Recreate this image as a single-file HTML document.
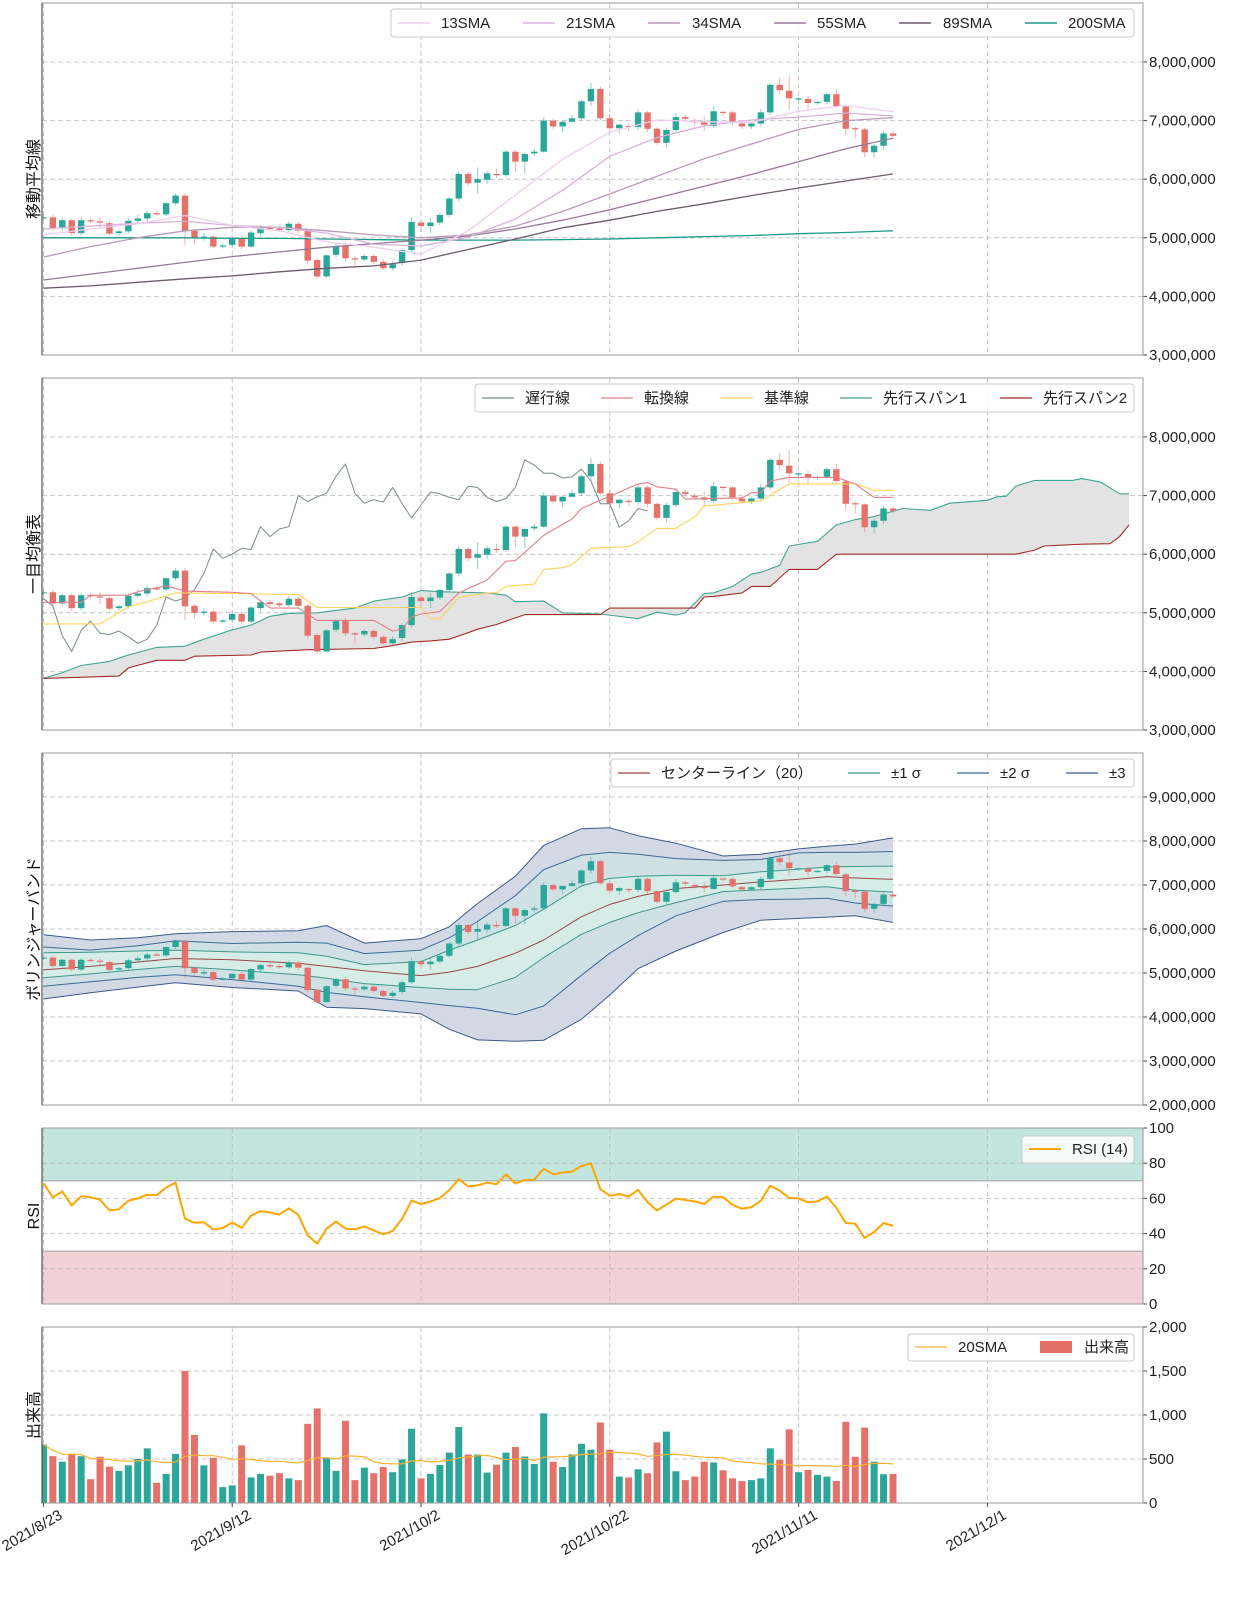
<!DOCTYPE html>
<html><head><meta charset="utf-8">
<style>
body{margin:0;background:#fff;}
svg{display:block;font-family:"Liberation Sans","Noto Sans CJK JP",sans-serif;}
.tk{font-size:15px;fill:#222;}
.lg{font-size:15px;fill:#222;}
.yl{font-size:16px;fill:#111;}
</style></head>
<body>
<svg id="chart" width="1254" height="1600" viewBox="0 0 1254 1600">
<defs id="defs"></defs>
<g id="layer"></g>
<g id="legends">
 <g>
  <rect x="391" y="9" width="743" height="28" rx="3" fill="#fff" fill-opacity="0.85" stroke="#ccc"/>
  <line x1="398" y1="23" x2="430" y2="23" stroke="#f0cdef" stroke-width="1.5"/><text class="lg" x="441" y="28">13SMA</text>
  <line x1="523" y1="23" x2="555" y2="23" stroke="#d9b2d9" stroke-width="1.5"/><text class="lg" x="566" y="28">21SMA</text>
  <line x1="648" y1="23" x2="680" y2="23" stroke="#b99ab9" stroke-width="1.5"/><text class="lg" x="692" y="28">34SMA</text>
  <line x1="774" y1="23" x2="806" y2="23" stroke="#987a98" stroke-width="1.5"/><text class="lg" x="817" y="28">55SMA</text>
  <line x1="899" y1="23" x2="931" y2="23" stroke="#6b5b6b" stroke-width="1.5"/><text class="lg" x="943" y="28">89SMA</text>
  <line x1="1025" y1="23" x2="1057" y2="23" stroke="#1a9a8a" stroke-width="1.5"/><text class="lg" x="1068" y="28">200SMA</text>
 </g>
 <g>
  <rect x="475" y="384" width="659" height="28" rx="3" fill="#fff" fill-opacity="0.85" stroke="#ccc"/>
  <line x1="482" y1="398" x2="514" y2="398" stroke="#7a8a8a" stroke-width="1.2"/><text class="lg" x="525" y="403">遅行線</text>
  <line x1="601" y1="398" x2="633" y2="398" stroke="#e47f86" stroke-width="1.2"/><text class="lg" x="644" y="403">転換線</text>
  <line x1="721" y1="398" x2="753" y2="398" stroke="#ffd35a" stroke-width="1.2"/><text class="lg" x="764" y="403">基準線</text>
  <line x1="840" y1="398" x2="872" y2="398" stroke="#3fa592" stroke-width="1.2"/><text class="lg" x="883" y="403">先行スパン1</text>
  <line x1="1000" y1="398" x2="1032" y2="398" stroke="#a52a2a" stroke-width="1.2"/><text class="lg" x="1043" y="403">先行スパン2</text>
 </g>
 <g>
  <rect x="611" y="759" width="523" height="28" rx="3" fill="#fff" fill-opacity="0.85" stroke="#ccc"/>
  <line x1="618" y1="773" x2="650" y2="773" stroke="#9a4545" stroke-width="1.2"/><text class="lg" x="661" y="778">センターライン（20）</text>
  <line x1="848" y1="773" x2="880" y2="773" stroke="#3a9a8a" stroke-width="1.2"/><text class="lg" x="891" y="778">±1 σ</text>
  <line x1="957" y1="773" x2="989" y2="773" stroke="#3a6a9a" stroke-width="1.2"/><text class="lg" x="1000" y="778">±2 σ</text>
  <line x1="1066" y1="773" x2="1098" y2="773" stroke="#3a5a8a" stroke-width="1.2"/><text class="lg" x="1109" y="778">±3</text>
 </g>
 <g>
  <rect x="1022" y="1136" width="112" height="27" rx="3" fill="#fff" fill-opacity="0.85" stroke="#ccc"/>
  <line x1="1029" y1="1149" x2="1061" y2="1149" stroke="#ffa500" stroke-width="2"/><text class="lg" x="1072" y="1154">RSI (14)</text>
 </g>
 <g>
  <rect x="908" y="1334" width="226" height="27" rx="3" fill="#fff" fill-opacity="0.85" stroke="#ccc"/>
  <line x1="915" y1="1347" x2="947" y2="1347" stroke="#ffb030" stroke-width="1.2"/><text class="lg" x="958" y="1352">20SMA</text>
  <rect x="1040" y="1341" width="32" height="12" fill="#e57068"/><text class="lg" x="1084" y="1352">出来高</text>
 </g>
</g>
<g>
 <text class="yl" transform="translate(39,179) rotate(-90)" text-anchor="middle">移動平均線</text>
 <text class="yl" transform="translate(39,554) rotate(-90)" text-anchor="middle">一目均衡表</text>
 <text class="yl" transform="translate(39,929) rotate(-90)" text-anchor="middle">ボリンジャーバンド</text>
 <text class="yl" transform="translate(39,1216) rotate(-90)" text-anchor="middle">RSI</text>
 <text class="yl" transform="translate(39,1415) rotate(-90)" text-anchor="middle">出来高</text>
</g>
</svg>
<script>
const dateLabels=['2021/8/23','2021/9/12','2021/10/2','2021/10/22','2021/11/11','2021/12/1'];
const dateIdx=[0,20,40,60,80,100];
const opens=[5.33,5.35,5.16,5.30,5.08,5.30,5.28,5.25,5.08,5.11, 5.29,5.33,5.42,5.40,5.59,5.72,5.12,5.01,5.02,4.85, 4.88,4.98,4.85,5.08,5.18,5.16,5.13,5.24,5.12,4.62, 4.34,4.71,4.86,4.65,4.63,4.69,4.59,4.48,4.57,4.79, 5.26,5.20,5.26,5.39,5.67,6.09,5.94,5.99,6.09,6.07, 6.47,6.30,6.44,6.47,7.00,6.90,6.98,7.04,7.33,7.54, 7.04,6.87,6.91,6.89,7.14,6.86,6.62,6.84,7.06,7.00, 6.97,6.91,7.15,7.14,6.95,6.90,6.95,7.14,7.61,7.51, 7.38,7.37,7.30,7.32,7.45,7.24,6.87,6.85,6.46,6.57,6.78];
const closes=[5.35,5.16,5.30,5.08,5.30,5.28,5.26,5.07,5.11,5.29, 5.33,5.42,5.40,5.59,5.72,5.11,5.00,5.02,4.85,4.87, 4.98,4.85,5.09,5.18,5.15,5.13,5.24,5.12,4.61,4.34, 4.70,4.86,4.65,4.63,4.69,4.59,4.48,4.55,4.79,5.27, 5.20,5.26,5.39,5.67,6.09,5.93,6.00,6.10,6.08,6.47, 6.30,6.43,6.47,7.00,6.90,6.98,7.04,7.33,7.54,7.04, 6.87,6.93,6.89,7.14,6.86,6.62,6.84,7.06,7.03,6.97, 6.93,7.16,7.14,6.97,6.90,6.95,7.14,7.61,7.52,7.38, 7.38,7.30,7.32,7.45,7.25,6.86,6.86,6.46,6.57,6.78,6.74];
const highs=[5.40,5.40,5.33,5.33,5.34,5.34,5.35,5.28,5.14,5.33, 5.40,5.46,5.46,5.60,5.76,5.76,5.15,5.08,5.05,4.90, 5.01,5.02,5.12,5.22,5.22,5.19,5.28,5.27,5.15,4.65, 4.72,4.90,4.92,4.68,4.72,4.72,4.62,4.60,4.82,5.35, 5.30,5.34,5.42,5.70,6.14,6.12,6.20,6.14,6.18,6.50, 6.50,6.46,6.52,7.06,7.04,6.99,7.10,7.36,7.64,7.58, 7.12,6.95,6.94,7.19,7.17,6.88,6.88,7.13,7.10,7.04, 7.07,7.24,7.16,7.17,6.98,6.97,7.20,7.64,7.73,7.77, 7.40,7.42,7.34,7.48,7.54,7.27,6.90,6.87,6.60,6.82,6.82];
const lows=[5.30,5.12,5.12,5.03,5.04,5.25,5.15,5.04,5.04,5.07, 5.26,5.28,5.38,5.37,5.55,4.88,4.90,4.95,4.82,4.82, 4.84,4.80,4.82,5.02,5.10,5.10,5.10,5.08,4.55,4.30, 4.32,4.66,4.60,4.48,4.60,4.55,4.45,4.44,4.52,4.75, 5.10,5.08,5.22,5.35,5.62,5.88,5.75,5.92,6.02,6.04, 6.12,6.10,6.40,6.45,6.86,6.80,6.97,7.00,7.25,7.00, 6.80,6.78,6.82,6.84,6.80,6.58,6.55,6.80,6.98,6.92, 6.82,6.88,7.08,6.92,6.86,6.86,6.90,7.10,7.45,7.20, 7.33,7.20,7.27,7.28,7.22,6.75,6.70,6.38,6.36,6.52,6.70];
const volumes=[666,532,469,551,532,270,525,413,365,428, 502,621,230,331,558,1499,774,428,513,180, 200,655,290,331,310,339,280,260,900,1075, 513,365,934,260,402,339,409,350,495,844, 280,331,432,573,863,551,551,346,435,573, 636,528,443,1019,469,409,551,673,606,915, 606,300,290,383,339,688,811,361,260,300, 469,461,372,280,250,260,280,621,491,837, 350,376,320,300,250,923,525,856,469,327,330];
const rsiVals=[68.7,60.6,64.0,55.9,61.2,60.6,59.3,53.1,53.8,58.7, 60.0,62.1,61.9,66.2,69.0,48.4,46.2,46.5,42.4,43.2, 46.3,43.3,50.3,52.7,52.0,50.8,54.4,50.7,39.0,34.3, 42.8,46.9,42.8,42.4,44.1,41.8,39.6,41.5,48.4,58.7, 56.8,58.2,60.2,64.7,70.9,66.8,67.4,69.0,68.1,73.7, 68.5,70.4,70.6,76.9,73.7,74.7,75.2,78.4,79.9,65.3, 61.5,62.5,61.0,64.9,57.8,53.1,56.5,59.9,59.1,58.3, 56.8,61.0,60.6,56.3,54.2,55.0,58.7,67.2,64.4,60.2, 60.0,57.8,58.3,61.0,54.6,46.0,45.6,37.5,40.9,46.0,44.3];
const smaDays=[0,5,10,15,20,25,30,35,40,45,50,55,60,65,70,75,80,85,90];
const sma13=[5.05,5.15,5.24,5.38,5.21,5.12,4.93,4.84,4.72,5.12,5.73,6.34,6.80,7.01,6.98,6.97,7.16,7.26,7.15];
const sma21=[5.15,5.20,5.25,5.28,5.21,5.18,5.08,4.89,4.86,5.01,5.32,5.81,6.39,6.71,6.91,7.01,7.06,7.13,7.08];
const sma34=[4.67,4.85,5.00,5.12,5.18,5.18,5.12,5.05,5.00,5.05,5.20,5.45,5.75,6.05,6.35,6.60,6.85,7.00,7.05];
const sma55=[4.28,4.38,4.48,4.58,4.68,4.76,4.84,4.90,4.96,5.03,5.15,5.30,5.48,5.68,5.88,6.08,6.30,6.52,6.70];
const sma89=[4.14,4.18,4.24,4.30,4.35,4.42,4.48,4.52,4.62,4.80,4.98,5.17,5.30,5.45,5.58,5.72,5.85,5.97,6.09];
const sma200=[5.00,5.00,5.00,5.00,4.99,4.99,4.98,4.97,4.96,4.96,4.96,4.97,4.98,5.00,5.02,5.04,5.07,5.09,5.12];
const tenkanDays=[0,4,5,9,10,13,15,20,22,24,27,29,35,37,38,39,40,42,44,47,49,50,53,56,57,59,61,63,64,65,67,68,74,75,76,77,79,84,86,88,90];
const tenkanVals=[5.18,5.18,5.30,5.30,5.36,5.46,5.37,5.35,5.33,5.08,5.08,4.87,4.87,4.69,4.72,4.93,4.98,5.02,5.34,5.56,5.88,5.89,6.32,6.60,6.78,6.92,7.06,7.20,7.22,7.15,7.11,6.94,6.96,7.05,7.05,7.25,7.31,7.31,7.20,6.97,6.97];
const kijunDays=[0,6,9,11,14,20,27,29,40,41,42,44,47,48,49,52,53,55,56,58,62,63,65,67,69,70,76,79,86,88,90];
const kijunVals=[4.81,4.81,5.10,5.19,5.34,5.33,5.31,5.09,5.09,4.90,4.90,5.26,5.34,5.34,5.45,5.49,5.74,5.77,5.82,6.10,6.13,6.21,6.44,6.44,6.64,6.82,6.91,7.20,7.20,7.09,7.09];
const span1Days=[0,2,4,7,9,12,15,17,20,22,24,26,29,33,35,38,40,42,47,49,50,53,55,59,63,65,67,68,70,71,73,75,76,78,79,82,84,86,88,91,94,95,96,100,101,102,103,105,109,110,112,114,115];
const span1Vals=[3.88,3.98,4.10,4.17,4.28,4.41,4.43,4.55,4.71,4.79,4.94,4.99,5.00,5.08,5.20,5.27,5.38,5.36,5.34,5.30,5.19,5.20,5.00,4.98,4.90,5.01,4.96,5.00,5.33,5.34,5.45,5.66,5.69,5.81,6.14,6.22,6.50,6.59,6.64,6.78,6.75,6.81,6.87,6.92,6.98,6.99,7.16,7.26,7.26,7.29,7.23,7.03,7.03];
const span2Days=[0,8,9,12,15,16,22,23,28,35,37,39,41,43,45,46,48,51,59,60,69,70,71,74,75,77,79,82,84,103,105,106,110,113,114,115];
const span2Vals=[3.88,3.92,4.06,4.19,4.19,4.26,4.28,4.33,4.37,4.39,4.44,4.50,4.52,4.55,4.66,4.72,4.80,4.97,4.97,5.08,5.08,5.27,5.28,5.34,5.45,5.45,5.74,5.74,6.00,6.00,6.07,6.14,6.17,6.18,6.30,6.50];
const bbDays=[0,5,10,14,20,27,30,34,40,43,46,50,53,57,60,63,67,72,76,80,83,86,90];
const bbUpper3=[5.87,5.75,5.80,5.89,5.94,5.96,6.08,5.68,5.78,6.05,6.58,7.20,7.90,8.28,8.30,8.12,7.95,7.66,7.70,7.82,7.88,7.93,8.07];
const bbUpper2=[5.59,5.52,5.62,5.73,5.67,5.70,5.68,5.44,5.52,5.80,6.17,6.76,7.35,7.68,7.74,7.70,7.60,7.56,7.58,7.73,7.74,7.74,7.76];
const bbUpper1=[5.46,5.47,5.50,5.52,5.48,5.46,5.38,5.19,5.26,5.52,5.75,6.08,6.45,6.98,7.15,7.20,7.22,7.21,7.30,7.36,7.41,7.42,7.43];
const bbCenter=[5.07,5.15,5.25,5.33,5.30,5.22,5.15,5.05,4.94,5.02,5.15,5.45,5.75,6.28,6.56,6.74,6.92,7.00,7.07,7.13,7.19,7.16,7.13];
const bbLower1=[4.89,4.98,5.08,5.15,5.07,4.96,4.88,4.76,4.67,4.63,4.62,4.90,5.35,5.88,6.15,6.37,6.60,6.85,6.89,6.93,6.96,6.88,6.84];
const bbLower2=[4.70,4.80,4.90,4.96,4.85,4.70,4.56,4.46,4.33,4.26,4.20,4.05,4.25,4.95,5.45,5.85,6.30,6.63,6.67,6.68,6.70,6.59,6.52];
const bbLower3=[4.41,4.55,4.68,4.78,4.67,4.59,4.22,4.19,4.07,3.72,3.48,3.45,3.47,3.95,4.50,5.10,5.50,5.92,6.20,6.24,6.27,6.30,6.15];

const NS='http://www.w3.org/2000/svg';
const X0=43.4, DX=9.44, PL=42, PR=1143;
function xOf(i){return X0+DX*i;}
const panels=[
 {name:'sma-panel',top:3,bot:355,min:3,max:3+352/58.6,ticks:[3,4,5,6,7,8],fmt:v=>(v*1e6).toLocaleString('en-US')},
 {name:'ichimoku-panel',top:378,bot:730,min:3,max:3+352/58.6,ticks:[3,4,5,6,7,8],fmt:v=>(v*1e6).toLocaleString('en-US')},
 {name:'bollinger-panel',top:753,bot:1105,min:2,max:10,ticks:[2,3,4,5,6,7,8,9],fmt:v=>(v*1e6).toLocaleString('en-US')},
 {name:'rsi-panel',top:1128,bot:1304,min:0,max:100,ticks:[0,20,40,60,80,100],fmt:v=>String(v)},
 {name:'volume-panel',top:1327,bot:1503,min:0,max:2000,ticks:[0,500,1000,1500,2000],fmt:v=>v.toLocaleString('en-US')}
];
function yOf(p,v){return p.bot-(v-p.min)*(p.bot-p.top)/(p.max-p.min);}
function mk(tag,parent){const e=document.createElementNS(NS,tag);parent.appendChild(e);return e;}
function set(e,a){for(const k in a)e.setAttribute(k,a[k]);return e;}
const layer=document.getElementById('layer');
const defs=document.getElementById('defs');

panels.forEach((p,pi)=>{
 const cp=mk('clipPath',defs);set(cp,{id:'clip'+pi});
 const cr=mk('rect',cp);set(cr,{x:PL,y:p.top,width:PR-PL,height:p.bot-p.top});
 const g=mk('g',layer);
 
 
 p.g=g;
 const pg=mk('g',g);set(pg,{'clip-path':'url(#clip'+pi+')'});
 
 
 p.pg=pg;
});

(function(){const p=panels[3];
 const z1=mk('rect',p.pg);set(z1,{x:PL,y:yOf(p,100),width:PR-PL,height:yOf(p,70)-yOf(p,100),fill:'#c2e5dd'});
 
 
 const z2=mk('rect',p.pg);set(z2,{x:PL,y:yOf(p,30),width:PR-PL,height:yOf(p,0)-yOf(p,30),fill:'#f3d1d9'});
 
 
 [70,30].forEach(v=>{const l=mk('line',p.pg);set(l,{x1:PL,x2:PR,y1:yOf(p,v),y2:yOf(p,v),stroke:'#aaa','stroke-width':1.2});
  
  });
})();

panels.forEach((p,pi)=>{
 p.ticks.forEach(t=>{const y=yOf(p,t);
  const gl=mk('line',p.pg);set(gl,{x1:PL,x2:PR,y1:y,y2:y,stroke:'#bbb','stroke-dasharray':'5,3','stroke-width':0.8});
  
  
  const tm=mk('line',p.g);set(tm,{x1:PR,x2:PR+4,y1:y,y2:y,stroke:'#444'});
  
  
  const tl=mk('text',p.g);set(tl,{x:PR+6,y:y+5,class:'tk'});tl.textContent=p.fmt(t);
  
  
 });
 dateIdx.forEach(d=>{const x=xOf(d);
  const vl=mk('line',p.pg);set(vl,{x1:x,x2:x,y1:p.top,y2:p.bot,stroke:'#bbb','stroke-dasharray':'5,3','stroke-width':0.8});
  
  
 });
});

function polyPts(p,days,vals){return days.map((d,k)=>xOf(d).toFixed(1)+','+yOf(p,vals[k]).toFixed(1)).join(' ');}
function line(p,days,vals,color,w,name){const l=mk('polyline',p.pg);set(l,{points:polyPts(p,days,vals),fill:'none',stroke:color,'stroke-width':w,'stroke-linejoin':'round'});
 
 return l;}
function band(p,daysA,a,daysB,b,fill,name){const pts=polyPts(p,daysA,a)+' '+polyPts(p,daysB.slice().reverse(),b.slice().reverse());
 const pg=mk('polygon',p.pg);set(pg,{points:pts,fill:fill,stroke:'none'});
 
 }
function candles(p,name){const g=mk('g',p.pg);
 
 
 closes.forEach((c,i)=>{const o=opens[i],up=c>=o,col=up?'#2aa798':'#e4716a',x=xOf(i);
  const w=mk('line',g);set(w,{x1:x,x2:x,y1:yOf(p,highs[i]),y2:yOf(p,lows[i]),stroke:col,'stroke-width':1,opacity:0.55});
  
  
  const yt=yOf(p,Math.max(o,c)),yb=yOf(p,Math.min(o,c));
  const b=mk('rect',g);set(b,{x:x-3.2,y:yt,width:6.4,height:Math.max(1.2,yb-yt),fill:col});
  
  
 });}
const idx=closes.map((_,i)=>i);

(function(){const p=panels[0];
 candles(p,'sma-candles');
 line(p,smaDays,sma200,'#1a9a8a',1.3,'sma200-line');
 line(p,smaDays,sma89,'#6b5b6b',1.3,'sma89-line');
 line(p,smaDays,sma55,'#987a98',1.3,'sma55-line');
 line(p,smaDays,sma34,'#b99ab9',1.3,'sma34-line');
 line(p,smaDays,sma21,'#d9b2d9',1.3,'sma21-line');
 line(p,smaDays,sma13,'#f0cdef',1.3,'sma13-line');
})();
(function(){const p=panels[1];
 band(p,span1Days,span1Vals,span2Days,span2Vals,'#e3e3e3','kumo-cloud');
 line(p,span1Days,span1Vals,'#3fa592',1.1,'span1-line');
 line(p,span2Days,span2Vals,'#a52a2a',1.1,'span2-line');
 line(p,idx.map(i=>i-26),closes,'#7a8a8a',1,'chikou-line');
 candles(p,'ichimoku-candles');
 line(p,kijunDays,kijunVals,'#ffd35a',1.1,'kijun-line');
 line(p,tenkanDays,tenkanVals,'#e47f86',1.1,'tenkan-line');
})();
(function(){const p=panels[2];
 band(p,bbDays,bbUpper3,bbDays,bbLower3,'#d2d9e5','band-3sigma-fill');
 band(p,bbDays,bbUpper2,bbDays,bbLower2,'#d0e1e6','band-2sigma-fill');
 band(p,bbDays,bbUpper1,bbDays,bbLower1,'#d5ece7','band-1sigma-fill');
 line(p,bbDays,bbUpper3,'#3a5a8a',1,'upper-3sigma');
 line(p,bbDays,bbLower3,'#3a5a8a',1,'lower-3sigma');
 line(p,bbDays,bbUpper2,'#3a6a9a',1,'upper-2sigma');
 line(p,bbDays,bbLower2,'#3a6a9a',1,'lower-2sigma');
 line(p,bbDays,bbUpper1,'#3a9a8a',1,'upper-1sigma');
 line(p,bbDays,bbLower1,'#3a9a8a',1,'lower-1sigma');
 line(p,bbDays,bbCenter,'#9a4545',1,'center-line');
 candles(p,'bollinger-candles');
})();
(function(){const p=panels[3];
 line(p,idx,rsiVals,'#ffa500',2,'rsi-line');
})();
(function(){const p=panels[4];
 const g=mk('g',p.pg);
 
 
 volumes.forEach((v,i)=>{const up=closes[i]>=opens[i];
  const r=mk('rect',g);set(r,{x:xOf(i)-3.5,y:yOf(p,v),width:7,height:yOf(p,0)-yOf(p,v),fill:up?'#2aa798':'#e4716a'});
  
  });
 const sma=volumes.map((v,i)=>{const s=volumes.slice(Math.max(0,i-19),i+1);return s.reduce((a,b)=>a+b,0)/s.length;});
 line(p,idx,sma,'#ffb030',1.2,'volume-sma-line');
})();
panels.forEach(p=>{
 const f=mk('rect',p.g);set(f,{x:PL,y:p.top,width:PR-PL,height:p.bot-p.top,fill:'none',stroke:'#999','stroke-width':1});
 
 
 const ls=mk('line',p.g);set(ls,{x1:PL,x2:PL,y1:p.top,y2:p.bot,stroke:'#555','stroke-width':1.2});
 
 
});
(function(){const p=panels[4];
 dateIdx.forEach((d,k)=>{const x=xOf(d);
  const tm=mk('line',p.g);set(tm,{x1:x,x2:x,y1:p.bot,y2:p.bot+4,stroke:'#444'});
  
  
  const t=mk('text',p.g);set(t,{class:'tk','text-anchor':'end',transform:'translate('+(x+20)+',1518) rotate(-30)'});
  t.textContent=dateLabels[k];
  
  
 });
})();
document.getElementById('chart').appendChild(document.getElementById('legends'));
</script>
</body></html>
